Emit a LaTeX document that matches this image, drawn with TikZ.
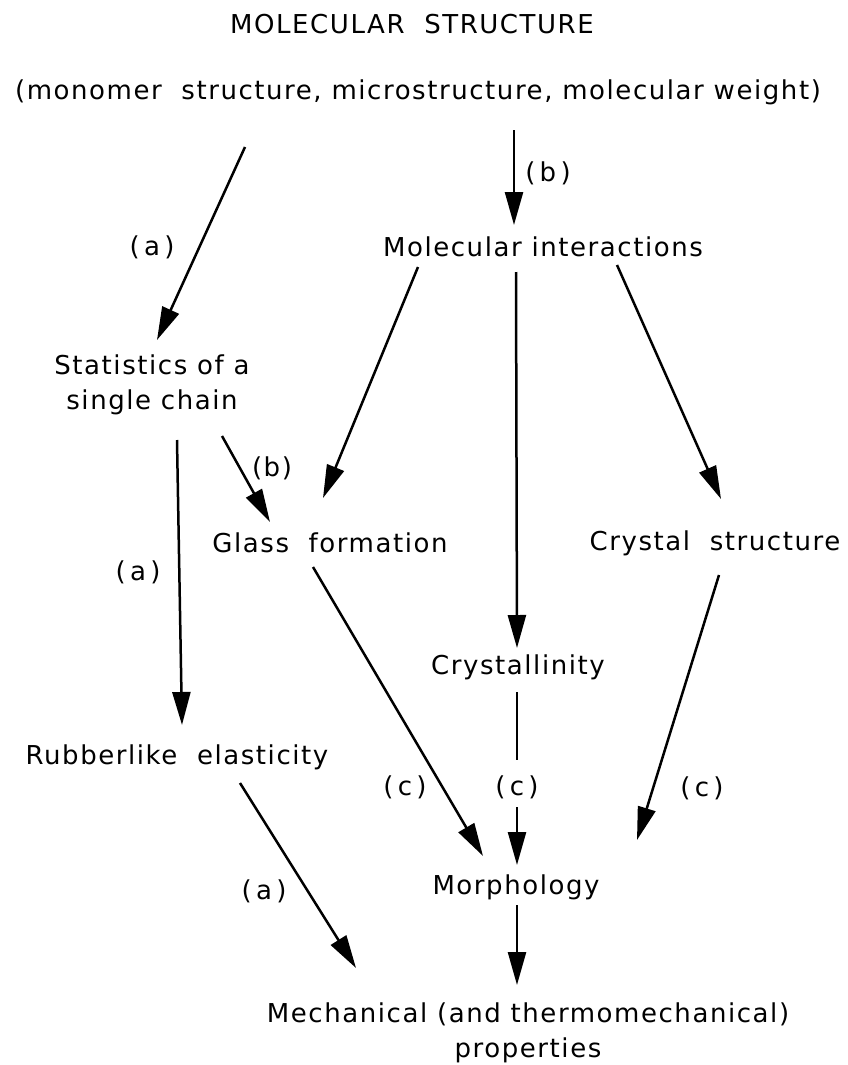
\documentclass[tikz,border=0pt]{standalone}
\usepackage{fontspec}
\setmainfont{DejaVu Sans}[LetterSpace=6]
\usetikzlibrary{arrows.meta,positioning}

\begin{document}
\begin{tikzpicture}[x=1pt, y=-1pt,
  box/.style={inner sep=0pt, font=\fontsize{26}{35}\selectfont, align=center},
  lbl/.style={inner sep=0pt, font=\fontsize{26}{35}\selectfont},
  arr/.style={-{Triangle[length=33pt,width=18pt]}, line width=2.5pt},
  ln/.style={line width=2.5pt}
]
\useasboundingbox (0,0) rectangle (847,1065);

\node[box] (title) at (412,24) {MOLECULAR\ \ STRUCTURE};
\node[box] (props) at (418,92) {(monomer\ \ structure, microstructure, molecular weight)};
\node[box] (mol) at (543,247) {Molecular interactions};
\node[box] (stat) at (152,385) {Statistics of a\\single chain};
\node[box] (glass) at (330,543) {Glass\ \ formation};
\node[box] (cstruct) at (715,543) {Crystal\ \ structure};
\node[box] (cryst) at (518,667) {Crystallinity};
\node[box] (rubber) at (177,757) {Rubberlike\ \ elasticity};
\node[box] (morph) at (516,887) {Morphology};
\node[box] (mech) at (528,1033) {Mechanical (and thermomechanical)\\properties};

\node[lbl] (la1) at (152,247) {(\,a\,)};
\node[lbl] (lb1) at (548,173) {(\,b\,)};
\node[lbl] (lb2) at (272,468) {(b)};
\node[lbl] (la2) at (138,572) {(\,a\,)};
\node[lbl] (la3) at (264,891) {(\,a\,)};
\node[lbl] (lc1) at (405,787) {(\,c\,)};
\node[lbl] (lc2) at (517,787) {(\,c\,)};
\node[lbl] (lc3) at (702,788) {(\,c\,)};

\draw[arr] ([shift={(-173,55)}]props.center) -- ([shift={(5,-45)}]stat.center);
\draw[arr] ([shift={(96,38)}]props.center) -- ([shift={(-29,-22)}]mol.center);
\draw[arr] ([shift={(-125,20)}]mol.center) -- ([shift={(-7,-45)}]glass.center);
\draw[arr] ([shift={(-27,25)}]mol.center) -- ([shift={(-1,-19)}]cryst.center);
\draw[arr] ([shift={(74,18)}]mol.center) -- ([shift={(6,-44)}]cstruct.center);
\draw[arr] ([shift={(70,51)}]stat.center) -- ([shift={(-60,-21)}]glass.center);
\draw[arr] ([shift={(25,55)}]stat.center) -- ([shift={(5,-32)}]rubber.center);
\draw[arr] ([shift={(-17,24)}]glass.center) -- ([shift={(-33,-31)}]morph.center);
\draw[ln] ([shift={(-1,25)}]cryst.center) -- ([shift={(0,-27)}]lc2.center);
\draw[arr] ([shift={(0,20)}]lc2.center) -- ([shift={(1,-22)}]morph.center);
\draw[arr] ([shift={(4,32)}]cstruct.center) -- ([shift={(121,-47)}]morph.center);
\draw[arr] ([shift={(63,26)}]rubber.center) -- ([shift={(-172,-65)}]mech.center);
\draw[arr] ([shift={(1,18)}]morph.center) -- ([shift={(-11,-48)}]mech.center);
\end{tikzpicture}
\end{document}
